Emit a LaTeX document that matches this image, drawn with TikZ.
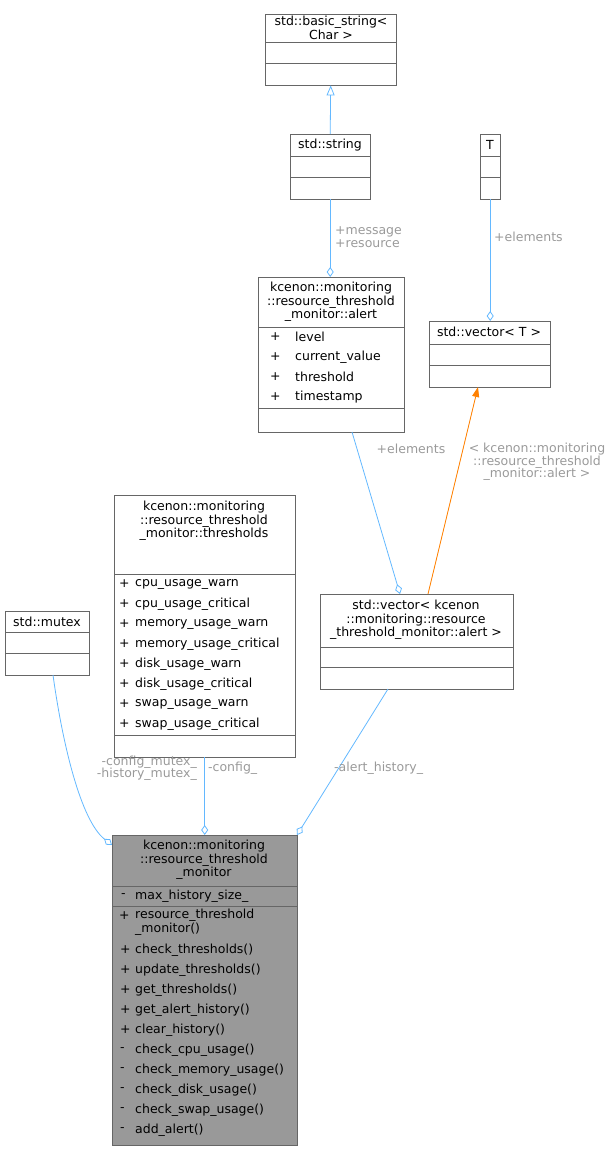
\documentclass[tikz,border=0pt]{standalone}
\usepackage{fontspec}
\setmainfont{DejaVu Sans}
\usetikzlibrary{arrows.meta}
\definecolor{edgeblue}{HTML}{63B8FF}
\definecolor{boxline}{HTML}{666666}
\definecolor{lblgrey}{HTML}{9A9A9A}
\begin{document}
\begin{tikzpicture}[x=1pt,y=-1pt,
            cls/.style={draw=boxline, fill=white, inner sep=0pt, anchor=north west},
            txt/.style={inner sep=0pt, font=\fontsize{12.5}{13.5}\selectfont, align=center},
            mem/.style={inner sep=0pt, anchor=west, font=\fontsize{12.5}{14}\selectfont},
            lbl/.style={inner sep=0pt, text=lblgrey, font=\fontsize{12.5}{12.5}\selectfont},
            agg/.style={draw=edgeblue, line width=0.8pt, {Diamond[open,length=10pt,width=7pt]}-},
            inh/.style={draw=edgeblue, line width=0.8pt, -{Triangle[open,length=10pt,width=8pt]}},
            tpl/.style={draw=orange, line width=0.8pt, -{Triangle[length=10pt,width=7pt]}, fill=orange},
            ]
            \useasboundingbox (0,0) rectangle (614,1151);
            \newcommand{\sep}[2]{\draw[boxline] ([yshift=-#2]#1.north west) -- ([yshift=-#2]#1.north east);}

            % classes
            \node[cls, minimum width=131pt, minimum height=71pt] (bstr) at (265,14) {};
            \node[txt] at (331,28) {std::basic\_string\textless\\Char \textgreater};
            \sep{bstr}{28} \sep{bstr}{49}

            \node[cls, minimum width=80pt, minimum height=65pt] (str) at (290,134) {};
            \node[txt] at (330,145) {std::string};
            \sep{str}{22} \sep{str}{43}

            \node[cls, minimum width=20pt, minimum height=65pt] (T) at (480,134) {};
            \node[txt] at (490,145) {T};
            \sep{T}{22} \sep{T}{43}

            \node[cls, minimum width=146pt, minimum height=155pt] (alert) at (258,277) {};
            \node[txt] at (331,302) {kcenon::monitoring\\::resource\_threshold\\\_monitor::alert};
            \sep{alert}{50} \sep{alert}{131}
            \foreach \m [count=\i] in {level,current\_value,threshold,timestamp} {
                \node[mem] at (270,317+20*\i) {+};
                \node[mem] at (295,317+20*\i) {\m};
            }

            \node[cls, minimum width=121pt, minimum height=66pt] (vecT) at (429,321) {};
            \node[txt] at (489,332) {std::vector\textless{} T \textgreater};
            \sep{vecT}{23} \sep{vecT}{44}

            \node[cls, minimum width=181pt, minimum height=262pt] (thr) at (114,495) {};
            \node[txt] at (204,521) {kcenon::monitoring\\::resource\_threshold\\\_monitor::thresholds};
            \sep{thr}{79} \sep{thr}{240}
            \foreach \m [count=\i] in {cpu\_usage\_warn,cpu\_usage\_critical,memory\_usage\_warn,memory\_usage\_critical,disk\_usage\_warn,disk\_usage\_critical,swap\_usage\_warn,swap\_usage\_critical} {
                \node[mem] at (119,564+20*\i) {+};
                \node[mem] at (135,564+20*\i) {\m};
            }

            \node[cls, minimum width=84pt, minimum height=64pt] (mtx) at (5,611) {};
            \node[txt] at (47,622) {std::mutex};
            \sep{mtx}{21} \sep{mtx}{42}

            \node[cls, minimum width=193pt, minimum height=95pt] (vecA) at (320,594) {};
            \node[txt] at (416,620) {std::vector\textless{} kcenon\\::monitoring::resource\\\_threshold\_monitor::alert \textgreater};
            \sep{vecA}{53} \sep{vecA}{73}

            \node[cls, fill={rgb,255:red,153;green,153;blue,153}, minimum width=185pt, minimum height=310pt] (mon) at (112,835) {};
            \node[txt] at (204,860) {kcenon::monitoring\\::resource\_threshold\\\_monitor};
            \sep{mon}{51} \sep{mon}{71}
            \node[mem] at (121,896) {-};
            \node[mem] at (135,896) {max\_history\_size\_};
            \node[mem] at (119,916) {+};
            \node[mem, align=left, anchor=north west] at (135,909) {resource\_threshold\\\_monitor()};
            \foreach \m/\v [count=\i] in {check\_thresholds()/+,update\_thresholds()/+,get\_thresholds()/+,get\_alert\_history()/+,clear\_history()/+,check\_cpu\_usage()/-,check\_memory\_usage()/-,check\_disk\_usage()/-,check\_swap\_usage()/-,add\_alert()/-} {
                \node[mem] at (120,930+20*\i) {\v};
                \node[mem] at (135,930+20*\i) {\m};
            }

            % connectors
            \draw[inh] (str.north) -- (bstr.south);
            \draw[agg] (alert.north -| str.south) -- (str.south);
            \node[lbl, anchor=west, align=left] at (335,237) {+message\\+resource};
            \draw[agg] (vecT.north -| T.south) -- (T.south);
            \node[lbl, anchor=west] at (494,237) {+elements};
            \coordinate (aFrom) at (352,432);
            \draw[agg] (400,594) -- (aFrom);
            \node[lbl] at (411,449) {+elements};
            \coordinate (tTo) at (478,387);
            \draw[tpl] (428,594) -- (tTo);
            \node[lbl, align=center] at (537,462) {\textless{} kcenon::monitoring\\::resource\_threshold\\\_monitor::alert \textgreater};
            \coordinate (mFrom) at (53,675);
            \draw[agg] (112,845) .. controls (80,820) and (62,740) .. (mFrom);
            \node[lbl, align=right, anchor=east] at (197,768) {-config\_mutex\_\\-history\_mutex\_};
            \draw[agg] (mon.north -| thr.south) -- (thr.south);
            \node[lbl, anchor=west] at (208,768) {-config\_};
            \coordinate (vFrom) at (388,689);
            \draw[agg] (297,835) -- (vFrom);
            \node[lbl, anchor=west] at (334,768) {-alert\_history\_};
        \end{tikzpicture}
\end{document}
